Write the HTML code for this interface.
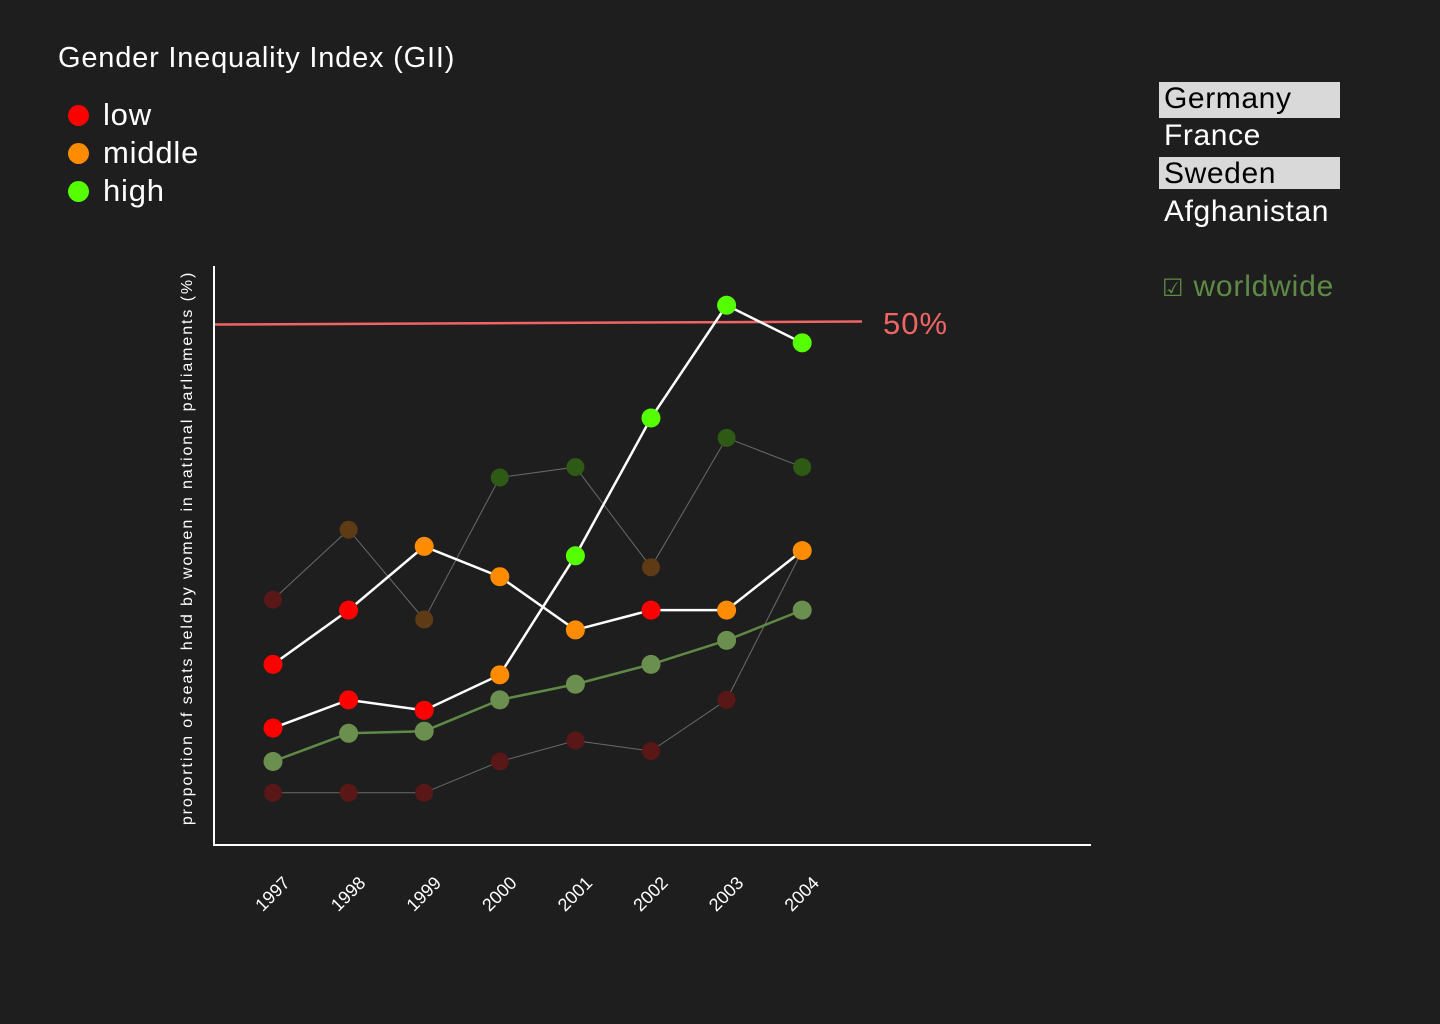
<!DOCTYPE html>
<html><head><meta charset="utf-8">
<style>
html,body{margin:0;padding:0;background:#1e1e1e;}
body{width:1440px;height:1024px;overflow:hidden;position:relative;font-family:"Liberation Sans",sans-serif;color:#fff;}
.t{position:absolute;white-space:nowrap;}
.country{position:absolute;left:1159px;width:181px;height:36px;font-size:30px;line-height:34px;padding-left:5px;box-sizing:border-box;color:#fff;cursor:pointer;letter-spacing:0.6px;}
.country.sel{background:#d9d9d9;color:#000;}
</style></head><body>
<div class="t" style="left:58px;top:42px;font-size:29px;letter-spacing:0.8px;">Gender Inequality Index (GII)</div>
<div class="t" style="left:68px;top:97px;font-size:31px;letter-spacing:0.8px;"><span style="display:inline-block;width:21px;height:21px;border-radius:50%;background:#ff0000;margin-right:14px;vertical-align:-1px"></span>low</div>
<div class="t" style="left:68px;top:135px;font-size:31px;letter-spacing:0.8px;"><span style="display:inline-block;width:21px;height:21px;border-radius:50%;background:#ff8c00;margin-right:14px;vertical-align:-1px"></span>middle</div>
<div class="t" style="left:68px;top:173px;font-size:31px;letter-spacing:0.8px;"><span style="display:inline-block;width:21px;height:21px;border-radius:50%;background:#55ff00;margin-right:14px;vertical-align:-1px"></span>high</div>

<div class="country sel" style="top:82px;">Germany</div>
<div class="country" style="top:119px;">France</div>
<div class="country sel" style="top:157px;height:32px;">Sweden</div>
<div class="country" style="top:195px;">Afghanistan</div>
<div class="t" style="left:1162px;top:270px;font-size:30px;color:#5f8a45;cursor:pointer;letter-spacing:0.8px;"><span style="font-size:24px;">☑</span> worldwide</div>

<svg id="chart" width="1440" height="1024" style="position:absolute;left:0;top:0;">
<line x1="214" y1="266" x2="214" y2="846" stroke="#fff" stroke-width="2"/>
<line x1="213" y1="845" x2="1091" y2="845" stroke="#fff" stroke-width="2"/>
<text transform="translate(192,548) rotate(-90)" text-anchor="middle" font-size="16" letter-spacing="1.9" fill="#fff" font-family="Liberation Sans, sans-serif">proportion of seats held by women in national parliaments (%)</text>
<g id="gref"></g><g id="gfaded"></g><g id="gmain"></g><g id="gticks"></g>
</svg>
<script>
const years=["1997","1998","1999","2000","2001","2002","2003","2004"];
const germany=[17.3,22.5,28.6,25.7,20.6,22.5,22.5,28.2];
const germanyGII=["low","low","middle","middle","middle","low","middle","middle"];
const sweden=[11.2,13.9,12.9,16.3,27.7,40.9,51.7,48.1];
const swedenGII=["low","low","low","middle","high","high","high","high"];
const france=[23.5,30.2,21.6,35.2,36.2,26.6,39.0,36.2];
const franceGII=["low","middle","middle","high","high","middle","high","high"];
const afghanistan=[5.0,5.0,5.0,8.0,10.0,9.0,13.9,28.2];
const afghanistanGII=["low","low","low","low","low","low","low","middle"];
const worldwide=[8.0,10.7,10.9,13.9,15.4,17.3,19.6,22.5];
const refValue=50;
const NS="http://www.w3.org/2000/svg";
const xs=i=>273+i*75.6;
const ys=v=>845-v*10.44;
const bright={low:"#ff0000",middle:"#ff8c00",high:"#55ff00"};
const dim={low:"#5a1717",middle:"#5e3b14",high:"#2e5a16"};
function mk(tag,attrs,parent){const e=document.createElementNS(NS,tag);for(const k in attrs)e.setAttribute(k,attrs[k]);parent.appendChild(e);return e;}
const gref=document.getElementById('gref');
const rl=mk('line',{x1:215,y1:ys(refValue)+1.5,x2:862,y2:ys(refValue)-1.5,stroke:'#f06464','stroke-width':2.5},gref);


const rt=mk('text',{x:883,y:ys(refValue)+11,fill:'#f06464','font-size':31,'letter-spacing':1,'font-family':'Liberation Sans, sans-serif'},gref);
rt.textContent=refValue+"%";


function series(vals,cols,g,name,lineColor,lw,r){
  const pl=mk('polyline',{points:vals.map((v,i)=>xs(i)+','+ys(v)).join(' '),fill:'none',stroke:lineColor,'stroke-width':lw},g);
  
  
  vals.forEach((v,i)=>{
    const c=mk('circle',{cx:xs(i),cy:ys(v),r:r,fill:cols[i]},g);
    
    
  });
}
const gf=document.getElementById('gfaded'),gm=document.getElementById('gmain');
series(france,franceGII.map(k=>dim[k]),gf,'france','#6a6a6a',1,9);
series(afghanistan,afghanistanGII.map(k=>dim[k]),gf,'afghanistan','#6a6a6a',1,9);
series(worldwide,worldwide.map(()=>'#6b8f4e'),gm,'worldwide','#5f8a45',2.5,9.5);
series(germany,germanyGII.map(k=>bright[k]),gm,'germany','#fff',2.5,9.5);
series(sweden,swedenGII.map(k=>bright[k]),gm,'sweden','#fff',2.5,9.5);
const gt=document.getElementById('gticks');
years.forEach((y,i)=>{
  const t=mk('text',{transform:'translate('+(xs(i)+18)+',884) rotate(-45)','text-anchor':'end',fill:'#fff','font-size':18,'font-family':'Liberation Sans, sans-serif'},gt);
  t.textContent=y;
  
  
});
</script>
</body></html>
